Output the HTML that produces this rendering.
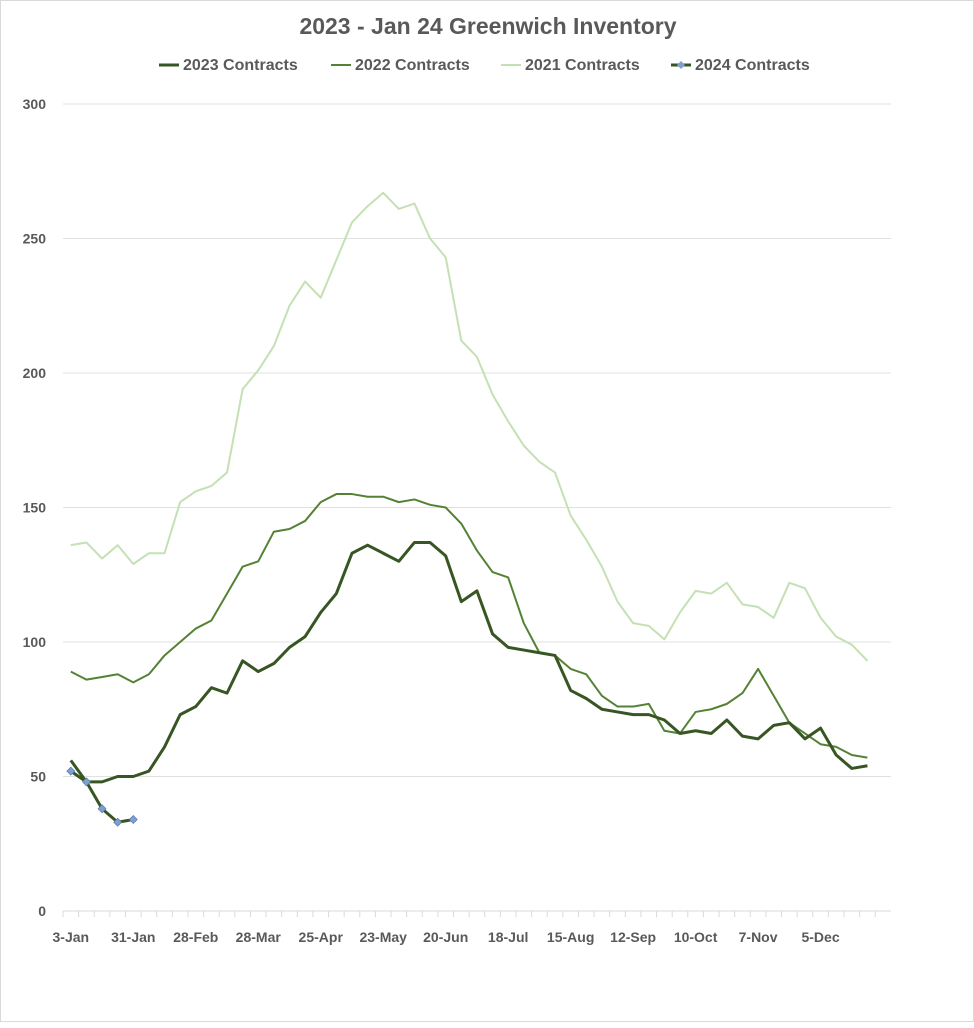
<!DOCTYPE html>
<html><head><meta charset="utf-8"><style>
body{margin:0;background:#fff}
#c{position:absolute;left:0;top:0;width:972px;height:1020px;border:1px solid #d9d9d9}
text{font-family:"Liberation Sans",sans-serif;font-weight:bold;fill:#595959}
</style></head><body>
<div id="c">
<svg id="s" width="974" height="1022">
<text x="487" y="33" text-anchor="middle" font-size="23">2023 - Jan 24 Greenwich Inventory</text>
<g id="grid"></g>
<g id="axes"></g>
<g id="series"></g>
<g id="legend"></g>
</svg></div>
<script>
const xLabels=["3-Jan","31-Jan","28-Feb","28-Mar","25-Apr","23-May","20-Jun","18-Jul","15-Aug","12-Sep","10-Oct","7-Nov","5-Dec"];
const yTicks=[0,50,100,150,200,250,300];
const s2023=[56,48,48,50,50,52,61,73,76,83,81,93,89,92,98,102,111,118,133,136,133,130,137,137,132,115,119,103,98,97,96,95,82,79,75,74,73,73,71,66,67,66,71,65,64,69,70,64,68,58,53,54];
const s2022=[89,86,87,88,85,88,95,100,105,108,118,128,130,141,142,145,152,155,155,154,154,152,153,151,150,144,134,126,124,107,96,95,90,88,80,76,76,77,67,66,74,75,77,81,90,80,70,66,62,61,58,57];
const s2021=[136,137,131,136,129,133,133,152,156,158,163,194,201,210,225,234,228,242,256,262,267,261,263,250,243,212,206,192,182,173,167,163,147,138,128,115,107,106,101,111,119,118,122,114,113,109,122,120,109,102,99,93];
const s2024=[52,48,38,33,34];
const N=53,X0=62,X1=890,Y0=910,Y300=103;
const cw=15.62;
const xs=i=>X0+cw*(i+0.5);
const ys=v=>Y0-(v/300)*(Y0-Y300);
const NS="http://www.w3.org/2000/svg";
function mk(t,a,p){const e=document.createElementNS(NS,t);for(const k in a)e.setAttribute(k,a[k]);p.appendChild(e);return e;}
const g=document.getElementById('grid'),ax=document.getElementById('axes'),se=document.getElementById('series'),lg=document.getElementById('legend');
yTicks.forEach(v=>{
 if(v>0){const l=mk('line',{x1:X0,x2:X1,y1:ys(v),y2:ys(v),stroke:'#e0e0e0','stroke-width':1},g);
 
 }
 const t=mk('text',{x:45,y:ys(v)+5,'text-anchor':'end','font-size':14},ax);t.textContent=v;
 
 
});
const base=mk('line',{x1:X0,x2:X1,y1:Y0,y2:Y0,stroke:'#d9d9d9'},ax);


for(let i=0;i<N;i++){const tk=mk('line',{x1:X0+cw*i,x2:X0+cw*i,y1:Y0,y2:Y0+6,stroke:'#d9d9d9'},ax);
 
 }
xLabels.forEach((lb,k)=>{const t=mk('text',{x:xs(k*4),y:941,'text-anchor':'middle','font-size':14},ax);t.textContent=lb;
 
 });
function line(d,col,w,name){const p=mk('polyline',{points:d.map((v,i)=>xs(i)+','+ys(v)).join(' '),fill:'none',stroke:col,'stroke-width':w,'stroke-linejoin':'round'},se);
 
 }
line(s2021,'#c5e0b4',2,'line-2021');
line(s2022,'#548235',2,'line-2022');
line(s2023,'#375623',3,'line-2023');
line(s2024,'#375623',3,'line-2024');
s2024.forEach((v,i)=>{const x=xs(i),y=ys(v);const m=mk('polygon',{points:`${x},${y-4} ${x+4},${y} ${x},${y+4} ${x-4},${y}`,fill:'#7f9fd0',stroke:'#5a7ab0','stroke-width':0.7},se);
 
 });
const leg=[["2023 Contracts",'#375623',3,158],["2022 Contracts",'#548235',2,330],["2021 Contracts",'#c5e0b4',2,500],["2024 Contracts",'#375623',3,670]];
leg.forEach(([n,c,w,x])=>{const l=mk('line',{x1:x,x2:x+20,y1:64,y2:64,stroke:c,'stroke-width':w},lg);
 
 
 if(n.startsWith('2024')){const m=mk('polygon',{points:`${x+10},60 ${x+14},64 ${x+10},68 ${x+6},64`,fill:'#7f9fd0'},lg);
 
 }
 const t=mk('text',{x:x+24,y:69,'font-size':16},lg);t.textContent=n;
 
 });
</script></body></html>
